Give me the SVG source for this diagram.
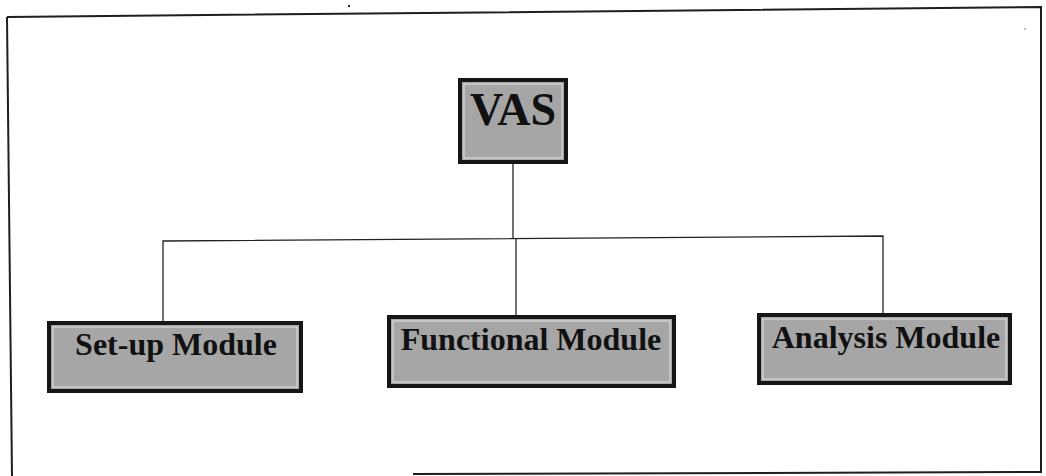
<svg xmlns="http://www.w3.org/2000/svg" width="1046" height="476" viewBox="0 0 1046 476">
<defs>
<style>
.box{fill:#a6a6a6;stroke:#161616;stroke-width:4}
.inner{fill:none;stroke:#e2e2e2;stroke-width:1}
.lbl{font-family:"Liberation Serif","Times New Roman",serif;font-weight:bold;fill:#111;text-anchor:middle}
.sh{fill:#6a6a6a;opacity:0.5}
.conn{stroke:#222;stroke-width:1.3;fill:none}
.frame{stroke:#1e1e1e;stroke-width:2;fill:none}
</style>
</defs>
<rect width="1046" height="476" fill="#ffffff"/>
<g id="frame">
<path class="frame" d="M7,17 L1041,7 L1041,473"/>
<path class="frame" d="M7,17 L12,476" stroke="#666"/>
<path class="frame" d="M413,474 L1041,472"/>
<circle cx="349" cy="6" r="1.2" fill="#333"/>
<circle cx="1025" cy="29" r="0.8" fill="#777"/>
</g>
<g id="connectors">
<line class="conn" x1="513" y1="164" x2="513" y2="239"/>
<polyline class="conn" points="163,321 163,241 883,236 883,313"/>
<line class="conn" x1="516" y1="239" x2="516" y2="315"/>
</g>
<g id="vas">
<rect class="box" x="460" y="80" width="106" height="82"/>
<rect class="inner" x="464" y="84" width="98" height="74"/>
<text class="lbl" x="513" y="125" font-size="46">VAS</text>
</g>
<g id="setup">
<rect class="box" x="49" y="323" width="252" height="68"/>
<rect class="inner" x="53" y="327" width="244" height="60"/>
<text class="lbl" x="176" y="355" font-size="32">Set-up Module</text>
</g>
<g id="functional">
<rect class="box" x="389" y="317" width="285" height="69"/>
<rect class="inner" x="393" y="321" width="277" height="61"/>
<text class="lbl" x="531" y="350" font-size="32">Functional Module</text>
</g>
<g id="analysis">
<rect class="box" x="759" y="315" width="251" height="68"/>
<rect class="inner" x="763" y="319" width="243" height="60"/>
<text class="lbl" x="886" y="348" font-size="32">Analysis Module</text>
</g>
</svg>
